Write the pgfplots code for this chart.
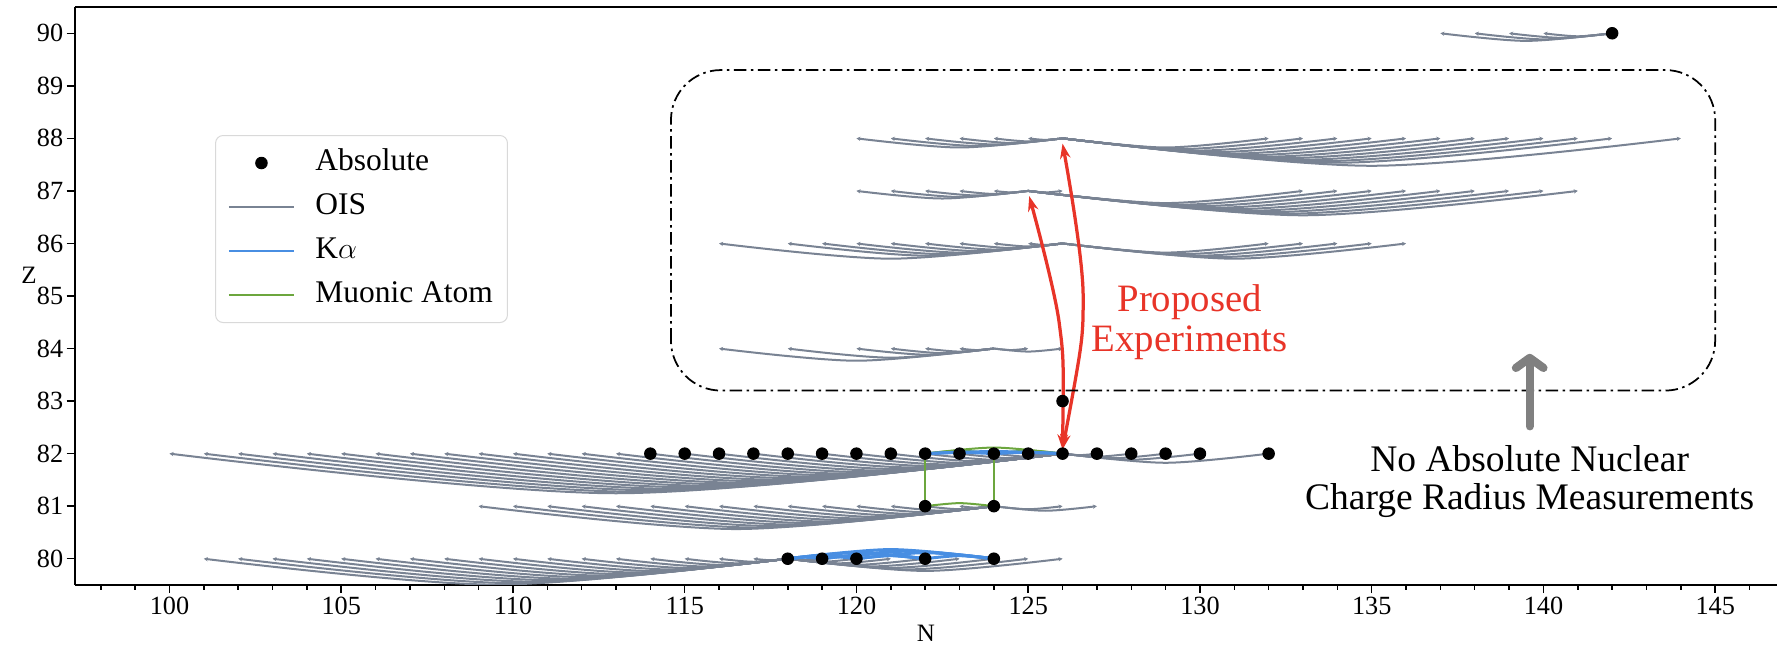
\documentclass[border=0pt]{standalone}
\usepackage{fontspec}
\setmainfont{Liberation Serif}
\usepackage{pgfplots}
\pgfplotsset{compat=1.18}
\usetikzlibrary{arrows.meta}

\definecolor{oiscol}{RGB}{121,131,147}
\definecolor{kacol}{RGB}{72,142,226}
\definecolor{mucol}{RGB}{108,166,62}
\definecolor{propred}{RGB}{232,52,40}
\definecolor{noarrow}{RGB}{128,128,128}

\pgfplotsset{
  ois/.style={oiscol, line width=0.8pt, smooth, -{Stealth[length=1.6pt,width=1.7pt]}},
  ka/.style={kacol, line width=1.2pt, smooth},
  mu/.style={mucol, line width=0.8pt, smooth},
}
% arc: reference N, Z, target N, mid N, mid Z
\newcommand{\oisarc}[5]{\addplot[ois,forget plot] coordinates {(#1,#2) (#4,#5) (#3,#2)};}
\newcommand{\kaarc}[5]{\addplot[ka,forget plot] coordinates {(#1,#2) (#4,#5) (#3,#2)};}
\newcommand{\muarc}[5]{\addplot[mu,forget plot] coordinates {(#1,#2) (#4,#5) (#3,#2)};}

\begin{document}
\begin{tikzpicture}
\useasboundingbox (-30pt,-25.2pt) rectangle (680.8pt,234pt);
\begin{axis}[
  scale only axis, width=680.8pt, height=231.2pt,
  xmin=97.25, xmax=146.8, ymin=79.5, ymax=90.5,
  axis x line*=box, axis y line*=left,
  xtick={100,105,...,145}, minor xtick={98,...,147}, ytick={80,...,90},
  xtick pos=left, ytick pos=left,
  tick align=outside, major tick length=3.3pt, minor tick length=1.9pt,
  tick style={black, line width=0.6pt},
  axis line style={black, line width=0.7pt, -},
  tick label style={font=\fontsize{10.5}{12}\selectfont, inner sep=1.2pt},
  /pgf/number format/assume math mode=true,
  xlabel={N}, ylabel={Z},
  label style={font=\fontsize{10}{12}\selectfont},
  xlabel style={at={(axis description cs:0.5,-0.083)}, anchor=center},
  ylabel style={at={(axis description cs:-0.027,0.535)}, anchor=center, rotate=-90},
  legend style={at={(0.0823,0.7785)}, anchor=north west, draw=black!15,
    rounded corners=3pt, fill=white, font=\fontsize{12.6}{14}\selectfont,
    inner xsep=4.8pt, inner ysep=5pt, row sep=5.6pt, column sep=7pt,
    nodes={inner xsep=1pt, inner ysep=0pt, text height=9pt, text depth=3pt}},
  legend cell align=left,
  legend image code/.code={\draw[mark repeat=2,mark phase=2,#1]
    plot coordinates {(0pt,0pt) (13pt,0pt) (26pt,0pt)};},
]
\addlegendimage{only marks, mark=*, mark size=2.3pt, black}
\addlegendentry{Absolute}
\addlegendimage{oiscol, line width=1.1pt}
\addlegendentry{OIS}
\addlegendimage{kacol, line width=1.1pt}
\addlegendentry{K$\alpha$}
\addlegendimage{mucol, line width=1.1pt}
\addlegendentry{Muonic Atom}

% ---- OIS, Z=82 (reference N=126)
\oisarc{126}{82}{100}{113}{81.246}
\oisarc{126}{82}{101}{113.5}{81.275}
\oisarc{126}{82}{102}{114}{81.304}
\oisarc{126}{82}{103}{114.5}{81.333}
\oisarc{126}{82}{104}{115}{81.362}
\oisarc{126}{82}{105}{115.5}{81.391}
\oisarc{126}{82}{106}{116}{81.42}
\oisarc{126}{82}{107}{116.5}{81.449}
\oisarc{126}{82}{108}{117}{81.478}
\oisarc{126}{82}{109}{117.5}{81.507}
\oisarc{126}{82}{110}{118}{81.536}
\oisarc{126}{82}{111}{118.5}{81.565}
\oisarc{126}{82}{112}{119}{81.594}
\oisarc{126}{82}{113}{119.5}{81.623}
\oisarc{126}{82}{114}{120}{81.652}
\oisarc{126}{82}{115}{120.5}{81.681}
\oisarc{126}{82}{116}{121}{81.71}
\oisarc{126}{82}{117}{121.5}{81.739}
\oisarc{126}{82}{118}{122}{81.768}
\oisarc{126}{82}{119}{122.5}{81.797}
\oisarc{126}{82}{120}{123}{81.826}
\oisarc{126}{82}{121}{123.5}{81.855}
\oisarc{126}{82}{122}{124}{81.884}
\oisarc{126}{82}{123}{124.5}{81.913}
\oisarc{126}{82}{124}{125}{81.942}
\oisarc{126}{82}{125}{125.5}{81.971}
\oisarc{126}{82}{127}{126.5}{81.971}
\oisarc{126}{82}{128}{127}{81.942}
\oisarc{126}{82}{129}{127.5}{81.913}
\oisarc{126}{82}{130}{128}{81.884}
\oisarc{126}{82}{132}{129}{81.826}
% ---- OIS, Z=81 (reference N=124)
\oisarc{124}{81}{109}{116.5}{80.565}
\oisarc{124}{81}{110}{117}{80.594}
\oisarc{124}{81}{111}{117.5}{80.623}
\oisarc{124}{81}{112}{118}{80.652}
\oisarc{124}{81}{113}{118.5}{80.681}
\oisarc{124}{81}{114}{119}{80.71}
\oisarc{124}{81}{115}{119.5}{80.739}
\oisarc{124}{81}{116}{120}{80.768}
\oisarc{124}{81}{117}{120.5}{80.797}
\oisarc{124}{81}{118}{121}{80.826}
\oisarc{124}{81}{119}{121.5}{80.855}
\oisarc{124}{81}{120}{122}{80.884}
\oisarc{124}{81}{121}{122.5}{80.913}
\oisarc{124}{81}{122}{123}{80.942}
\oisarc{124}{81}{123}{123.5}{80.971}
\oisarc{124}{81}{126}{125}{80.942}
\oisarc{124}{81}{127}{125.5}{80.913}
% ---- OIS, Z=80 (reference N=118)
\oisarc{118}{80}{101}{109.5}{79.507}
\oisarc{118}{80}{102}{110}{79.536}
\oisarc{118}{80}{103}{110.5}{79.565}
\oisarc{118}{80}{104}{111}{79.594}
\oisarc{118}{80}{105}{111.5}{79.623}
\oisarc{118}{80}{106}{112}{79.652}
\oisarc{118}{80}{107}{112.5}{79.681}
\oisarc{118}{80}{108}{113}{79.71}
\oisarc{118}{80}{109}{113.5}{79.739}
\oisarc{118}{80}{110}{114}{79.768}
\oisarc{118}{80}{111}{114.5}{79.797}
\oisarc{118}{80}{112}{115}{79.826}
\oisarc{118}{80}{113}{115.5}{79.855}
\oisarc{118}{80}{114}{116}{79.884}
\oisarc{118}{80}{115}{116.5}{79.913}
\oisarc{118}{80}{116}{117}{79.942}
\oisarc{118}{80}{117}{117.5}{79.971}
\oisarc{118}{80}{119}{118.5}{79.971}
\oisarc{118}{80}{120}{119}{79.942}
\oisarc{118}{80}{121}{119.5}{79.913}
\oisarc{118}{80}{122}{120}{79.884}
\oisarc{118}{80}{123}{120.5}{79.855}
\oisarc{118}{80}{124}{121}{79.826}
\oisarc{118}{80}{125}{121.5}{79.797}
\oisarc{118}{80}{126}{122}{79.768}
% ---- OIS, Z=84 (reference N=124)
\oisarc{124}{84}{116}{120}{83.768}
\oisarc{124}{84}{118}{121}{83.826}
\oisarc{124}{84}{120}{122}{83.884}
\oisarc{124}{84}{121}{122.5}{83.913}
\oisarc{124}{84}{122}{123}{83.942}
\oisarc{124}{84}{123}{123.5}{83.971}
\oisarc{124}{84}{125}{124.5}{83.971}
\oisarc{124}{84}{126}{125}{83.942}
% ---- OIS, Z=86 (reference N=126)
\oisarc{126}{86}{116}{121}{85.71}
\oisarc{126}{86}{118}{122}{85.768}
\oisarc{126}{86}{119}{122.5}{85.797}
\oisarc{126}{86}{120}{123}{85.826}
\oisarc{126}{86}{121}{123.5}{85.855}
\oisarc{126}{86}{122}{124}{85.884}
\oisarc{126}{86}{123}{124.5}{85.913}
\oisarc{126}{86}{124}{125}{85.942}
\oisarc{126}{86}{125}{125.5}{85.971}
\oisarc{126}{86}{132}{129}{85.826}
\oisarc{126}{86}{133}{129.5}{85.797}
\oisarc{126}{86}{134}{130}{85.768}
\oisarc{126}{86}{135}{130.5}{85.739}
\oisarc{126}{86}{136}{131}{85.71}
% ---- OIS, Z=87 (reference N=125)
\oisarc{125}{87}{120}{122.5}{86.855}
\oisarc{125}{87}{121}{123}{86.884}
\oisarc{125}{87}{122}{123.5}{86.913}
\oisarc{125}{87}{123}{124}{86.942}
\oisarc{125}{87}{124}{124.5}{86.971}
\oisarc{125}{87}{126}{125.5}{86.971}
\oisarc{125}{87}{133}{129}{86.768}
\oisarc{125}{87}{134}{129.5}{86.739}
\oisarc{125}{87}{135}{130}{86.71}
\oisarc{125}{87}{136}{130.5}{86.681}
\oisarc{125}{87}{137}{131}{86.652}
\oisarc{125}{87}{138}{131.5}{86.623}
\oisarc{125}{87}{139}{132}{86.594}
\oisarc{125}{87}{140}{132.5}{86.565}
\oisarc{125}{87}{141}{133}{86.536}
% ---- OIS, Z=88 (reference N=126)
\oisarc{126}{88}{120}{123}{87.826}
\oisarc{126}{88}{121}{123.5}{87.855}
\oisarc{126}{88}{122}{124}{87.884}
\oisarc{126}{88}{123}{124.5}{87.913}
\oisarc{126}{88}{124}{125}{87.942}
\oisarc{126}{88}{125}{125.5}{87.971}
\oisarc{126}{88}{132}{129}{87.826}
\oisarc{126}{88}{133}{129.5}{87.797}
\oisarc{126}{88}{134}{130}{87.768}
\oisarc{126}{88}{135}{130.5}{87.739}
\oisarc{126}{88}{136}{131}{87.71}
\oisarc{126}{88}{137}{131.5}{87.681}
\oisarc{126}{88}{138}{132}{87.652}
\oisarc{126}{88}{139}{132.5}{87.623}
\oisarc{126}{88}{140}{133}{87.594}
\oisarc{126}{88}{141}{133.5}{87.565}
\oisarc{126}{88}{142}{134}{87.536}
\oisarc{126}{88}{144}{135}{87.478}
% ---- OIS, Z=90 (reference N=142)
\oisarc{142}{90}{137}{139.5}{89.855}
\oisarc{142}{90}{138}{140}{89.884}
\oisarc{142}{90}{139}{140.5}{89.913}
\oisarc{142}{90}{140}{141}{89.942}

% ---- muonic atoms
\muarc{122}{82}{126}{124}{82.116}
\muarc{122}{82}{124}{123}{82.058}
\muarc{124}{82}{126}{125}{82.058}
\muarc{122}{81}{124}{123}{81.058}
\addplot[mu,forget plot] coordinates {(122,81) (122,82)};
\addplot[mu,forget plot] coordinates {(124,81) (124,82)};
\addplot[mu,forget plot] coordinates {(126,82) (126,83)};

% ---- K alpha
\kaarc{118}{80}{119}{118.5}{80.029}
\kaarc{118}{80}{120}{119}{80.058}
\kaarc{118}{80}{122}{120}{80.116}
\kaarc{118}{80}{124}{121}{80.174}
\kaarc{119}{80}{124}{121.5}{80.145}
\kaarc{120}{80}{124}{122}{80.116}
\kaarc{119}{80}{122}{120.5}{80.087}
\kaarc{120}{80}{122}{121}{80.058}
\kaarc{122}{80}{124}{123}{80.058}
\kaarc{122}{82}{126}{124}{82.04}
\kaarc{124}{82}{126}{125}{82.025}
\kaarc{122}{82}{124}{123}{82.025}

% ---- absolute measurements
\addplot[only marks, mark=*, mark size=2.3pt, black, forget plot] coordinates {
  (114,82) (115,82) (116,82) (117,82) (118,82) (119,82) (120,82) (121,82)
  (122,82) (123,82) (124,82) (125,82) (126,82) (127,82) (128,82) (129,82)
  (130,82) (132,82) (126,83) (122,81) (124,81)
  (118,80) (119,80) (120,80) (122,80) (124,80) (142,90)};

% ---- proposed experiments
\addplot[propred, line width=1.3pt, smooth, forget plot,
  {Stealth[length=6pt,width=4.2pt]}-{Stealth[length=6pt,width=4.2pt]}]
  coordinates {(126,82.08) (126.6,85) (126,87.9)};
\addplot[propred, line width=1.3pt, smooth, forget plot,
  {Stealth[length=6pt,width=4.2pt]}-{Stealth[length=6pt,width=4.2pt]}]
  coordinates {(126,82.08) (125.9,84.5) (125.03,86.9)};

\draw[black, line width=0.7pt, dash pattern=on 5pt off 1.8pt on 1pt off 1.8pt,
  rounded corners=20pt] (axis cs:114.6,83.2) rectangle (axis cs:145,89.3);
\node[propred, align=center, font=\fontsize{15.5}{16}\selectfont]
  at (axis cs:129.7,84.5) {Proposed\\Experiments};
\draw[noarrow, line width=3.3pt, line cap=round,
  -{Straight Barb[length=4pt,width=11pt,round]}]
  (axis cs:139.6,82.52) -- (axis cs:139.6,83.9);
\node[black, align=center, font=\fontsize{15}{15.2}\selectfont]
  at (axis cs:139.6,81.46) {No Absolute Nuclear\\Charge Radius Measurements};
\end{axis}
\end{tikzpicture}
\end{document}
